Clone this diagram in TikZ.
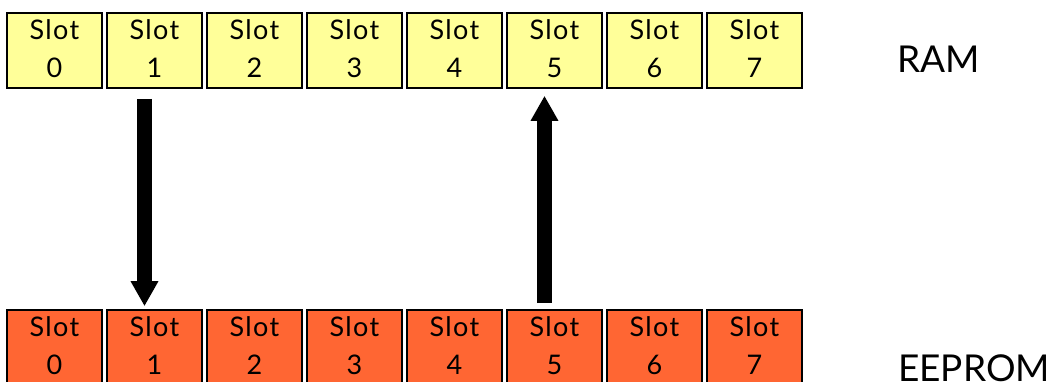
\documentclass[tikz,border=0pt]{standalone}
\usepackage{fontspec}
\setmainfont{Lato}
\newfontfamily\slotfont[LetterSpace=5]{Lato}
\usetikzlibrary{arrows.meta}
\definecolor{ramfill}{HTML}{FFFF99}
\definecolor{eepfill}{HTML}{FF6633}
\begin{document}
\begin{tikzpicture}[x=1bp,y=-1bp,
  slotbox/.style={draw=black,line width=1.6bp,minimum width=95bp,minimum height=75bp,inner sep=0pt},
  ramslot/.style={slotbox,fill=ramfill},
  eepslot/.style={slotbox,fill=eepfill},
  slottext/.style={inner sep=0pt,align=center,yshift=2bp,
    font=\slotfont\fontsize{27bp}{38bp}\selectfont},
  memlabel/.style={anchor=base west,inner sep=0pt,font=\fontsize{37bp}{40bp}\selectfont},
  bigarrow/.style={line width=15bp,-{Triangle[width=26bp,length=25bp]}}]
  \useasboundingbox (0,0) rectangle (1048,381);
  \clip (0,0) rectangle (1048,381);
  % RAM row and EEPROM row of slots
  \foreach \i in {0,...,7} {
    \node[ramslot] (r\i) at (54.5+100*\i,50.5) {};
    \node[slottext] (rt\i) at (r\i.center) {Slot\\\i};
    \node[eepslot] (e\i) at (54.5+100*\i,347.5) {};
    \node[slottext] (et\i) at (e\i.center) {Slot\\\i};
  }
  \node[memlabel] (ram) at (897,72) {RAM};
  \node[memlabel] (eep) at (898,381) {EEPROM};
  % save slot 1 to EEPROM, load slot 5 back into RAM
  \draw[bigarrow,shorten <=10bp,shorten >=3bp] ([xshift=-10bp]r1.south) -- ([xshift=-10bp]e1.north);
  \draw[bigarrow,shorten <=6bp,shorten >=7bp] ([xshift=-10bp]e5.north) -- ([xshift=-10bp]r5.south);
\end{tikzpicture}
\end{document}
